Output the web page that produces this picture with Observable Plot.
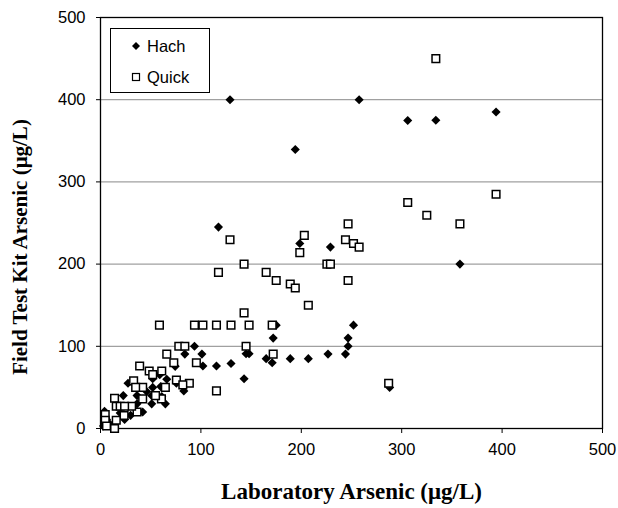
<!DOCTYPE html>
<html>
<head>
<meta charset="utf-8">
<script src="https://cdn.jsdelivr.net/npm/d3@7"></script>
<script src="https://cdn.jsdelivr.net/npm/@observablehq/plot@0.6"></script>
<style>
  body { margin: 0; background: #fff; }
  #wrap { position: relative; width: 618px; height: 508px; }
  #wrap svg { font-family: "Liberation Sans", Arial, sans-serif; }
  g[aria-label="x-axis label"] text, g[aria-label="y-axis label"] text {
    font-family: "Liberation Serif", "Times New Roman", serif;
    font-weight: bold; fill: #000;
  }
  g[aria-label="x-axis label"] text { font-size: 23px; }
  g[aria-label="y-axis label"] text { font-size: 21px; }
  #legend {
    position: absolute; left: 110px; top: 28px; width: 98px; height: 63px;
    border: 1px solid #000; background: #fff;
    font-family: "Liberation Sans", Arial, sans-serif; font-size: 16.5px; color: #000;
  }
  #legend .item { position: absolute; left: 0; height: 20px; line-height: 20px; }
  #legend svg { position: absolute; left: 19px; top: 4px; }
  #legend span { position: absolute; left: 36px; white-space: nowrap; }
</style>
</head>
<body>
<div id="wrap"></div>
<script>
// Tick labels
const xTicks = [0, 100, 200, 300, 400, 500];
const yTicks = [0, 100, 200, 300, 400, 500];
const gridValues = [100, 200, 300, 400];
const seriesNames = ["Hach", "Quick"];

// Hach series: laboratory arsenic (x) and field test kit arsenic (y)
const hachLab = [129,257.6,194,306,334,394,117.5,198.5,229,358,252,175,172,246.6,246.6,244,226.6,207,189,165,171,148,145,143,130,115.5,102,101,93.6,84,83,75.6,74.4,288,
  27.4,22.7,36.4,36.4,42,24,30,51,52,52,59,66,60,64.6,51,61,4,6,3,8,19.6,46];
const hachKit = [400,400,339.5,374.7,375,385,245,225,220.7,200,125.7,125.7,110,110,100,90.5,90.5,85,85,85,80,91,91,60.6,79,76,76,90.5,100,90.5,45.7,55,75.6,50,
  55,40,40,30,20,11,16,40,50,60.6,65.5,60,51,30,30,39,21,11,3,7,19,45];

// Quick series
const quickLab = [334,306,394,325,358,246.6,203,129,244,252,257.6,198.5,225.5,229,143,117.5,165,175,246.6,189,194,207,143,58.7,93.6,102,115.5,130,148,171,145,78,84,66,172,95.5,73,39,61,48.5,52,75.6,115.5,88.5,287,64.6,42,33,35,60.7,42,54.8,36.4,82,14,15.7,19.6,23.5,15.7,14,4.7,4.7,6,31,24];
const quickKit = [450,275,285,259.5,249,249,235,229.6,229.6,225,220.7,214,200,200,200,190,190,180,180,175.8,171,150,140.7,125.7,125.7,125.7,125.7,125.7,125.7,125.7,100,100,100,90.5,90.5,80,80,76,70,70,65.5,59,45.7,55,55,50,50,58,50,36,36,40,20,53,36.8,27,27,15.8,10,0,17,10,3,27,27];

const hach = hachLab.map((x, i) => ({x, y: hachKit[i]}));
const quick = quickLab.map((x, i) => ({x, y: quickKit[i]}));

const chart = Plot.plot({
  width: 618,
  height: 508,
  marginLeft: 100,
  marginRight: 16,
  marginTop: 17,
  marginBottom: 80,
  style: {fontSize: "16px", fontFamily: "Liberation Sans, Arial, sans-serif", color: "#000", background: "#fff"},
  x: {domain: [0, 500]},
  y: {domain: [0, 500]},
  marks: [
    Plot.ruleY(gridValues, {stroke: "#a0a0a0", strokeWidth: 1.2}),
    Plot.frame({stroke: "#000", strokeWidth: 1.3}),
    Plot.axisX({ticks: xTicks, tickSize: 5, tickPadding: 10, label: "Laboratory Arsenic (μg/L)", labelAnchor: "center", labelArrow: "none", labelOffset: 70, fontSize: 16.5}),
    Plot.axisY({ticks: yTicks, tickSize: 4, tickPadding: 11, label: "Field Test Kit Arsenic (μg/L)", labelAnchor: "center", labelArrow: "none", labelOffset: 88, fontSize: 16.5}),
    Plot.dot(hach, {x: "x", y: "y", symbol: "diamond2", r: 4.1, fill: "#000", stroke: "none"}),
    Plot.dot(quick, {x: "x", y: "y", symbol: "square", r: 4.3, fill: "#fff", stroke: "#000", strokeWidth: 1.5})
  ]
});

const wrap = document.getElementById("wrap");
wrap.appendChild(chart);

// shift the y-axis title a little lower, as in the reference
const yLabel = chart.querySelector('g[aria-label="y-axis label"] text');
if (yLabel) yLabel.setAttribute("dx", "-24");

// Legend
const legend = document.createElement("div");
legend.id = "legend";
legend.innerHTML = `
  <div class="item" style="top:7px;width:98px;">
    <svg width="12" height="12" viewBox="-6 -6 12 12"><path d="M0,-4L4,0L0,4L-4,0Z" fill="#000"/></svg>
    <span>${seriesNames[0]}</span>
  </div>
  <div class="item" style="top:38px;width:98px;">
    <svg width="12" height="12" viewBox="-6 -6 12 12"><rect x="-3.5" y="-3.5" width="7" height="7" fill="#fff" stroke="#000" stroke-width="1.2"/></svg>
    <span>${seriesNames[1]}</span>
  </div>`;
wrap.appendChild(legend);
</script>
</body>
</html>
